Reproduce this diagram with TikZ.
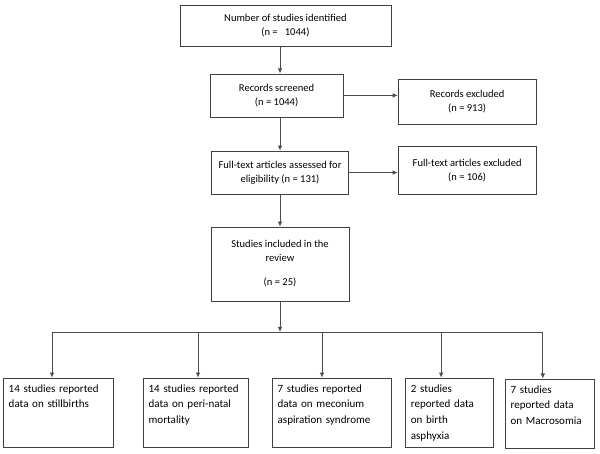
\documentclass[tikz,border=0pt]{standalone}
\usepackage{fontspec}
\setmainfont{Carlito}
\usepackage{tikz}
\usetikzlibrary{arrows.meta}
\pgfdeclarelayer{edgelayer}
\pgfdeclarelayer{nodelayer}
\pgfsetlayers{edgelayer,nodelayer,main}
\tikzstyle{flow_box}=[rectangle,draw=black!75,line width=0.8pt,align=center,inner sep=2pt,font=\fontsize{10.5}{14}\selectfont]
\tikzstyle{result_box}=[rectangle,draw=black!75,line width=0.8pt,align=left,inner xsep=0.2cm,inner ysep=0.2cm,text height=0.3cm,text depth=1.715cm,font={\fontsize{11}{15.5}\selectfont\normalbaselineskip=15.5pt}]
\tikzstyle{simple}=[-,draw=black!70,line width=0.8pt]
\tikzstyle{arrow}=[-{Latex[length=5pt,width=4.5pt]},draw=black!70,line width=0.8pt]

\begin{document}
\begin{tikzpicture}
	\useasboundingbox (0, 0) rectangle (21, 15.89);
	\begin{pgfonlayer}{nodelayer}
		\node [style={flow_box}, minimum width=7.385cm, minimum height=1.435cm] (0) at (9.99, 15.00) {Number of studies identified\\(n = \ \ 1044)};
		\node [style={flow_box}, minimum width=4.655cm, minimum height=1.505cm] (1) at (9.68, 12.55) {Records screened\\(n = 1044)};
		\node [style={flow_box}, minimum width=4.795cm, minimum height=1.505cm] (2) at (9.80, 9.85) {Full-text articles assessed for\\eligibility (n = 131)};
		\node [style={flow_box}, minimum width=4.83cm, minimum height=2.59cm] (3) at (9.80, 6.65) {Studies included in the\\review\\[0.35cm](n = 25)};
		\node [style={flow_box}, minimum width=4.83cm, minimum height=1.575cm] (4) at (16.35, 12.34) {Records excluded\\(n = 913)};
		\node [style={flow_box}, minimum width=4.83cm, minimum height=1.68cm] (5) at (16.35, 9.91) {Full-text articles excluded\\(n = 106)};
		\node [style={result_box}, text width=3.45cm] (6) at (2.03, 1.45) {14 studies reported\\data on stillbirths};
		\node [style={result_box}, text width=3.275cm] (7) at (6.84, 1.45) {14 studies reported\\data on peri-natal\\mortality};
		\node [style={result_box}, text width=3.765cm] (8) at (11.60, 1.45) {7 studies reported\\data on meconium\\aspiration syndrome};
		\node [style={result_box}, text width=2.68cm] (9) at (15.72, 1.45) {2 studies\\reported data\\on birth\\asphyxia};
		\node [style={result_box}, text width=2.715cm] (10) at (19.23, 1.42) {7 studies\\reported data\\on Macrosomia};
		\coordinate (11) at (9.80, 4.27);
		\coordinate (12) at (1.82, 4.27);
		\coordinate (13) at (6.93, 4.27);
		\coordinate (14) at (11.27, 4.27);
		\coordinate (15) at (15.44, 4.27);
		\coordinate (16) at (19.00, 4.27);
	\end{pgfonlayer}
	\begin{pgfonlayer}{edgelayer}
		\draw [style=arrow] (0.south -| 2.north) to (2.north |- 1.north);
		\draw [style=arrow] (1.south -| 2.north) to (2.north);
		\draw [style=arrow] (2.south) to (3.north);
		\draw [style=arrow] (1.east) to (1.east -| 4.west);
		\draw [style=arrow] (2.east) to (2.east -| 5.west);
		\draw [style=arrow] (3.south) to (11);
		\draw [style=simple] (12) to (16);
		\draw [style=arrow] (12) to (12 |- 6.north);
		\draw [style=arrow] (13) to (13 |- 7.north);
		\draw [style=arrow] (14) to (14 |- 8.north);
		\draw [style=arrow] (15) to (15 |- 9.north);
		\draw [style=arrow] (16) to (16 |- 10.north);
	\end{pgfonlayer}
\end{tikzpicture}
\end{document}
